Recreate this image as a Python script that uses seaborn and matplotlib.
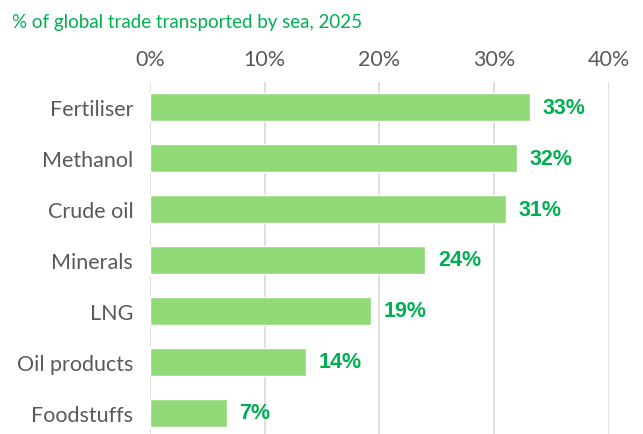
import matplotlib
matplotlib.use('Agg')
import matplotlib.pyplot as plt
import seaborn as sns
import pandas as pd

# dados
categorias = ['Fertiliser', 'Methanol', 'Crude oil', 'Minerals', 'LNG', 'Oil products', 'Foodstuffs']
valores = [33.1, 32.0, 31.0, 24.0, 19.3, 13.6, 6.7]
rotulos = ['33%', '32%', '31%', '24%', '19%', '14%', '7%']
ticks_x = [0, 10, 20, 30, 40]

df = pd.DataFrame({'categoria': categorias, 'valor': valores})

sns.set_theme(style='white')
plt.rcParams['font.family'] = ['Lato', 'DejaVu Sans']

fig = plt.figure(figsize=(6.43, 4.35), dpi=100)
ax = fig.add_axes([0.233, -0.01, 0.714, 0.82])

sns.barplot(data=df, x='valor', y='categoria', color='#92D977',
            saturation=1, width=0.55, ax=ax, zorder=3)

ax.set_xlim(0, 40)
ax.set_xticks(ticks_x)
ax.set_xticklabels([f'{t}%' for t in ticks_x])
ax.xaxis.tick_top()
ax.grid(axis='x', color='#D9D9D9', linewidth=1.2, zorder=0)
ax.tick_params(axis='x', length=0, pad=9, labelsize=15.5, labelcolor='#595959')
ax.tick_params(axis='y', length=0, pad=12, labelsize=15.5, labelcolor='#595959')
ax.set_xlabel('')
ax.set_ylabel('')
for s in ax.spines.values():
    s.set_visible(False)

for i, (v, r) in enumerate(zip(valores, rotulos)):
    ax.text(v + 1.1, i, r, va='center', ha='left', fontsize=15.5,
            fontweight='bold', color='#00B050', family='Liberation Sans')

# titulo
fig.text(0.019, 0.948, '% of global trade transported by sea, 2025',
         fontsize=13.5, color='#00B050', va='center', ha='left')

fig.savefig('out.png', dpi=100)
